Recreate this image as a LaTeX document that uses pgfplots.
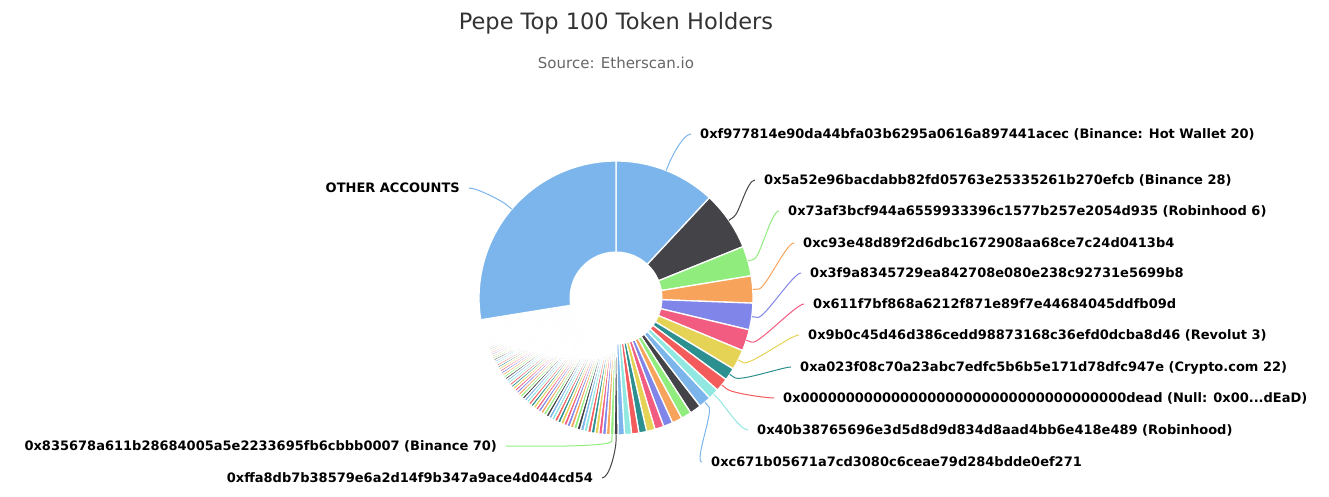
\documentclass[border=0pt]{standalone}
\usepackage{pgfplots}
\pgfplotsset{compat=1.18}
\usepackage{pgfplotstable}
\usepackage{fontspec}
\setmainfont{DejaVu Sans}
\definecolor{hc0}{HTML}{7CB5EC}
\definecolor{hc1}{HTML}{434348}
\definecolor{hc2}{HTML}{90ED7D}
\definecolor{hc3}{HTML}{F7A35C}
\definecolor{hc4}{HTML}{8085E9}
\definecolor{hc5}{HTML}{F15C80}
\definecolor{hc6}{HTML}{E4D354}
\definecolor{hc7}{HTML}{2B908F}
\definecolor{hc8}{HTML}{F45B5B}
\definecolor{hc9}{HTML}{91E8E1}
\definecolor{titlec}{HTML}{333333}
\definecolor{subc}{HTML}{666666}

% share of supply (%) of the top 100 holders, in chart order; last row = OTHER ACCOUNTS
\pgfplotstableread{
v
11.94
6.94
3.53
3.19
3.14
2.53
2.39
1.50
1.58
1.28
1.47
1.33
1.22
1.19
1.11
1.06
1.00
0.92
0.86
0.83
0.75
0.47
0.460
0.455
0.451
0.446
0.442
0.437
0.433
0.428
0.424
0.419
0.415
0.410
0.405
0.401
0.396
0.392
0.387
0.383
0.378
0.374
0.369
0.365
0.360
0.355
0.351
0.346
0.342
0.337
0.333
0.328
0.324
0.319
0.315
0.310
0.305
0.301
0.296
0.292
0.287
0.283
0.278
0.274
0.269
0.265
0.260
0.255
0.251
0.246
0.242
0.237
0.233
0.228
0.224
0.219
0.215
0.210
0.205
0.201
0.196
0.192
0.187
0.183
0.178
0.174
0.169
0.165
0.160
0.155
0.151
0.146
0.142
0.137
0.133
0.128
0.124
0.119
0.115
0.110
27.54
}\slices

\def\cx{616}\def\cy{-298}\def\R{137}\def\Ri{46.5}
\pgfplotstablegetrowsof{\slices}
\pgfmathtruncatemacro\nslices{\pgfplotsretval}
\pgfmathtruncatemacro\lastslice{\nslices-1}
\def\total{0}
\pgfplotsforeachungrouped \i in {0,...,\lastslice}{%
  \pgfplotstablegetelem{\i}{v}\of\slices
  \pgfmathsetmacro\total{\total+\pgfplotsretval}%
}
\def\cum{0}
\pgfplotsforeachungrouped \i in {0,...,\lastslice}{%
  \pgfplotstablegetelem{\i}{v}\of\slices
  \let\curv\pgfplotsretval
  \pgfmathsetmacro\astart{90-360*(\cum/\total)}%
  \pgfmathsetmacro\cum{\cum+\curv}%
  \pgfmathsetmacro\aend{90-360*(\cum/\total)}%
  \pgfmathtruncatemacro\ns{max(3,ceil((\astart-\aend)/1.5)+2)}%
  \expandafter\xdef\csname As\i\endcsname{\astart}%
  \expandafter\xdef\csname Ae\i\endcsname{\aend}%
  \expandafter\xdef\csname Ns\i\endcsname{\ns}%
}

% connector: #1 slice, #2 label edge x, #3 label y (px, down), #4 side (+1 right, -1 left), #5 name
\newcommand\mkconn[5]{%
  \pgfmathsetmacro\am{(\csname As#1\endcsname+\csname Ae#1\endcsname)/2}%
  \pgfmathsetmacro\ex{\cx+\R*cos(\am)}\pgfmathsetmacro\ey{\cy+\R*sin(\am)}%
  \pgfmathsetmacro\bx{\cx+(\R+6)*cos(\am)}\pgfmathsetmacro\by{\cy+(\R+6)*sin(\am)}%
  \pgfmathsetmacro\ccx{\cx+(\R+13)*cos(\am)}\pgfmathsetmacro\ccy{\cy+(\R+13)*sin(\am)}%
  \pgfmathsetmacro\sx{#2-(#4)*9}\pgfmathsetmacro\sy{-(#3)}%
  \pgfmathsetmacro\kx{#2-(#4)*17}%
  \expandafter\xdef\csname conn#5\endcsname{(axis cs:\sx,\sy) .. controls (axis cs:\kx,\sy) and (axis cs:\ccx,\ccy) .. (axis cs:\bx,\by) -- (axis cs:\ex,\ey)}%
}
\mkconn{0}{700}{134}{1}{A}
\mkconn{1}{764}{180}{1}{B}
\mkconn{2}{788}{211}{1}{C}
\mkconn{3}{803}{243}{1}{D}
\mkconn{4}{810}{273}{1}{E}
\mkconn{5}{813}{304}{1}{F}
\mkconn{6}{808}{335}{1}{G}
\mkconn{7}{800}{367}{1}{H}
\mkconn{8}{783}{398}{1}{I}
\mkconn{9}{757}{430}{1}{J}
\mkconn{10}{711}{462}{1}{K}
\mkconn{100}{460}{188}{-1}{L}
\mkconn{22}{497}{446}{-1}{M}
\mkconn{21}{593}{478}{-1}{N}

\newcommand\rlab[3]{\node[anchor=base west, inner sep=0pt, font=\bfseries\fontsize{13bp}{15bp}\selectfont] at (axis cs:#1,{-(#2)-4.7}) {#3};}
\newcommand\llab[3]{\node[anchor=base east, inner sep=0pt, font=\bfseries\fontsize{13bp}{15bp}\selectfont] at (axis cs:#1,{-(#2)-4.7}) {#3};}
\newcommand\drawconn[2]{\edef\tmpc{\noexpand\draw[#1, line width=1bp] \csname conn#2\endcsname;}\tmpc}

\begin{document}
\begin{tikzpicture}
\begin{axis}[
  x=1bp, y=1bp,
  xmin=0, xmax=1329, ymin=-497, ymax=0,
  hide axis, clip=false,
]
\path (rel axis cs:0,0) coordinate (SW) (rel axis cs:1,1) coordinate (NE);
\pgfplotsforeachungrouped \i in {0,...,\lastslice}{%
  \pgfmathtruncatemacro\ci{mod(\i,10)}%
  \edef\tmp{\noexpand\addplot[fill=hc\ci, draw=white, line width=1.3bp, line join=round,
     domain=\csname Ae\i\endcsname:\csname As\i\endcsname, samples=\csname Ns\i\endcsname, variable=\noexpand\t]
     ({\cx+\R*cos(\noexpand\t)},{\cy+\R*sin(\noexpand\t)}) -- (axis cs:\cx,\cy) -- cycle;}%
  \tmp
}
\addplot[fill=white, draw=none, domain=0:360, samples=120] ({\cx+\Ri*cos(x)},{\cy+\Ri*sin(x)});

\drawconn{hc0}{A}\drawconn{hc1}{B}\drawconn{hc2}{C}\drawconn{hc3}{D}
\drawconn{hc4}{E}\drawconn{hc5}{F}\drawconn{hc6}{G}\drawconn{hc7}{H}
\drawconn{hc8}{I}\drawconn{hc9}{J}\drawconn{hc0}{K}\drawconn{hc0}{L}
\drawconn{hc2}{M}\drawconn{hc1}{N}

\rlab{700}{134}{0xf977814e90da44bfa03b6295a0616a897441acec (Binance: Hot Wallet 20)}
\rlab{764}{180}{0x5a52e96bacdabb82fd05763e25335261b270efcb (Binance 28)}
\rlab{788}{211}{0x73af3bcf944a6559933396c1577b257e2054d935 (Robinhood 6)}
\rlab{803}{243}{0xc93e48d89f2d6dbc1672908aa68ce7c24d0413b4}
\rlab{810}{273}{0x3f9a8345729ea842708e080e238c92731e5699b8}
\rlab{813}{304}{0x611f7bf868a6212f871e89f7e44684045ddfb09d}
\rlab{808}{335}{0x9b0c45d46d386cedd98873168c36efd0dcba8d46 (Revolut 3)}
\rlab{800}{367}{0xa023f08c70a23abc7edfc5b6b5e171d78dfc947e (Crypto.com 22)}
\rlab{783}{398}{0x000000000000000000000000000000000000dead (Null: 0x00...dEaD)}
\rlab{757}{430}{0x40b38765696e3d5d8d9d834d8aad4bb6e418e489 (Robinhood)}
\rlab{711}{462}{0xc671b05671a7cd3080c6ceae79d284bdde0ef271}
\llab{460}{188}{OTHER ACCOUNTS}
\llab{497}{446}{0x835678a611b28684005a5e2233695fb6cbbb0007 (Binance 70)}
\llab{593}{478}{0xffa8db7b38579e6a2d14f9b347a9ace4d044cd54}

\node[anchor=base, inner sep=0pt, text=titlec, font=\fontsize{22.5bp}{27bp}\selectfont] at (axis cs:616,-30) {Pepe Top 100 Token Holders};
\node[anchor=base, inner sep=0pt, text=subc, font=\fontsize{15bp}{18bp}\selectfont] at (axis cs:616,-68.5) {Source: Etherscan.io};
\end{axis}
\pgfresetboundingbox
\path (SW) rectangle (NE);
\end{tikzpicture}
\end{document}
